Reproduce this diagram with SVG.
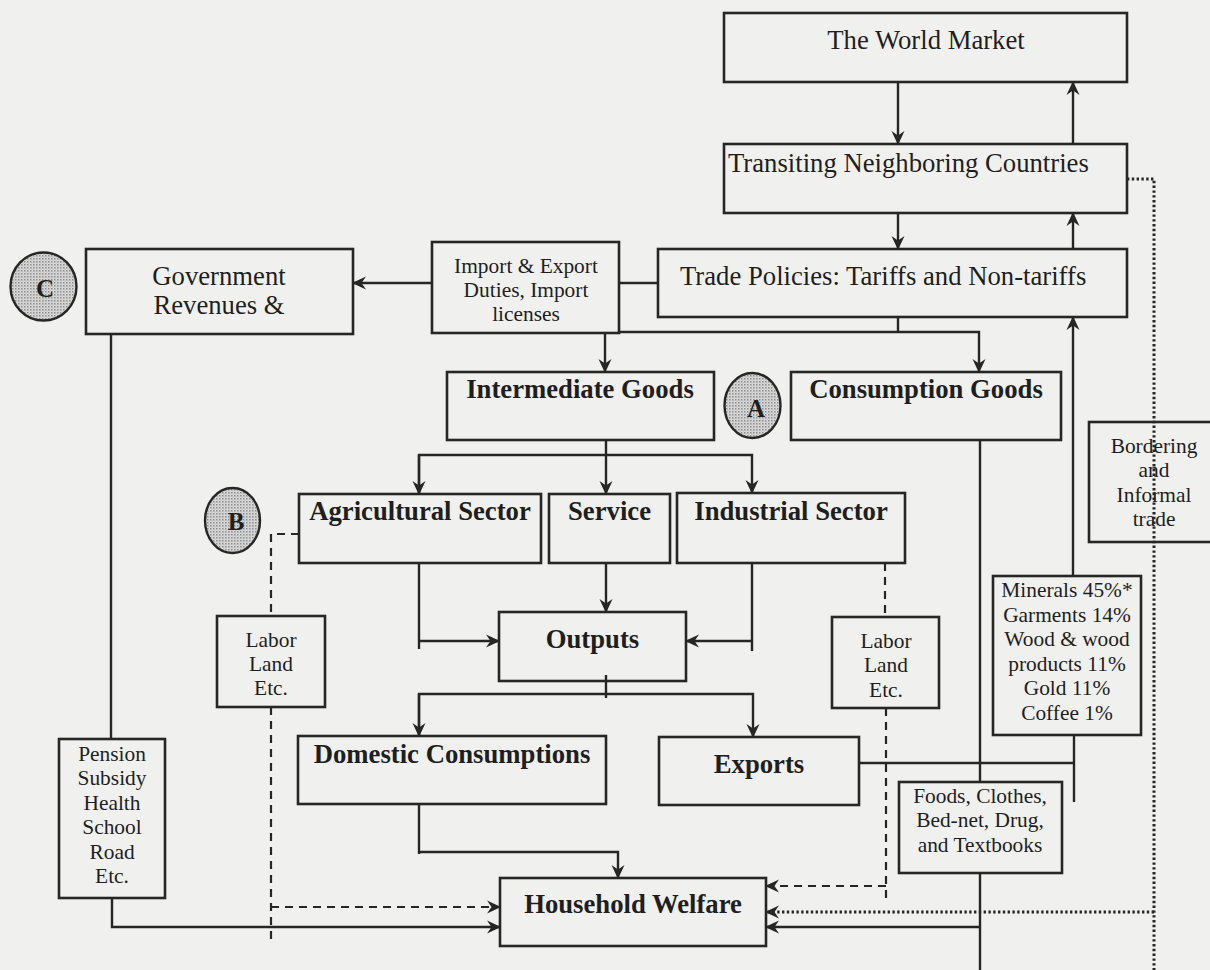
<svg xmlns="http://www.w3.org/2000/svg" width="1210" height="970" viewBox="0 0 1210 970">
<defs>
<style>
.box{fill:none;stroke:#262626;stroke-width:2.6}
.ln{fill:none;stroke:#262626;stroke-width:2.4}
.da{fill:none;stroke:#262626;stroke-width:2.2;stroke-dasharray:8 6}
.do{fill:none;stroke:#262626;stroke-width:3;stroke-dasharray:2.4 2.4}
.t{font-family:"Liberation Serif","Times New Roman",serif;fill:#1e1e1e;text-anchor:middle}
.big{font-size:26.7px}
.bold{font-size:26.7px;font-weight:bold}
.sm{font-size:21.4px}
.circ{fill:url(#stip);stroke:#262626;stroke-width:2.4}
.let{font-size:25px;font-weight:bold}
</style>
<pattern id="stip" width="3" height="3" patternUnits="userSpaceOnUse">
<rect width="3" height="3" fill="#dcdcdc"/>
<rect x="0" y="0" width="1.5" height="1.5" fill="#8a8a8a"/>
<rect x="1.5" y="1.5" width="1" height="1" fill="#a8a8a8"/>
</pattern>
<marker id="ah" viewBox="0 0 14 14" refX="13" refY="7" markerWidth="14" markerHeight="14" markerUnits="userSpaceOnUse" orient="auto">
<path d="M0,0.5 L14,7 L0,13.5 L4.5,7 z" fill="#262626"/>
</marker>
</defs>
<rect x="0" y="0" width="1210" height="970" fill="#f0f0ee"/>

<g id="world-market">
<rect class="box" x="724" y="13" width="403" height="69"/>
<text class="t big" x="926" y="49">The World Market</text>
</g>
<g id="transiting">
<rect class="box" x="724" y="144" width="403" height="69"/>
<text class="t big" x="728" y="172" style="text-anchor:start">Transiting Neighboring Countries</text>
</g>
<g id="trade-policies">
<rect class="box" x="658" y="249" width="469" height="68"/>
<text class="t big" x="680" y="285" style="text-anchor:start">Trade Policies: Tariffs and Non-tariffs</text>
</g>
<g id="duties">
<rect class="box" x="432" y="242" width="187" height="91"/>
<text class="t sm" x="526" y="273">Import &amp; Export</text>
<text class="t sm" x="526" y="297">Duties, Import</text>
<text class="t sm" x="526" y="321">licenses</text>
</g>
<g id="government">
<rect class="box" x="86" y="249" width="267" height="85"/>
<text class="t big" x="219" y="285">Government</text>
<text class="t big" x="219" y="314">Revenues &amp;</text>
</g>
<g id="circle-c">
<ellipse class="circ" cx="43.5" cy="286.5" rx="33" ry="34"/>
<text class="t let" x="45" y="297">C</text>
</g>
<g id="intermediate">
<rect class="box" x="447" y="372" width="267" height="68"/>
<text class="t bold" x="580" y="398">Intermediate Goods</text>
</g>
<g id="circle-a">
<ellipse class="circ" cx="752.5" cy="405.5" rx="28" ry="32.5"/>
<text class="t let" x="756" y="417">A</text>
</g>
<g id="consumption">
<rect class="box" x="791" y="372" width="270" height="68"/>
<text class="t bold" x="926" y="398">Consumption Goods</text>
</g>
<g id="bordering">
<rect class="box" x="1089" y="422" width="130" height="120"/>
<text class="t sm" x="1154" y="453">Bordering</text>
<text class="t sm" x="1154" y="477">and</text>
<text class="t sm" x="1154" y="502">Informal</text>
<text class="t sm" x="1154" y="526">trade</text>
</g>
<g id="circle-b">
<ellipse class="circ" cx="232.5" cy="520.5" rx="27.5" ry="32.5"/>
<text class="t let" x="236" y="530">B</text>
</g>
<g id="agricultural">
<rect class="box" x="299" y="494" width="242" height="69"/>
<text class="t bold" x="420" y="520">Agricultural Sector</text>
</g>
<g id="service">
<rect class="box" x="549" y="494" width="121" height="69"/>
<text class="t bold" x="609.5" y="520">Service</text>
</g>
<g id="industrial">
<rect class="box" x="677" y="493" width="228" height="70"/>
<text class="t bold" x="791" y="520">Industrial Sector</text>
</g>
<g id="minerals">
<rect class="box" x="993" y="576" width="148" height="159"/>
<text class="t sm" x="1067" y="597">Minerals 45%*</text>
<text class="t sm" x="1067" y="622">Garments 14%</text>
<text class="t sm" x="1067" y="646">Wood &amp; wood</text>
<text class="t sm" x="1067" y="671">products 11%</text>
<text class="t sm" x="1067" y="695">Gold 11%</text>
<text class="t sm" x="1067" y="720">Coffee 1%</text>
</g>
<g id="labor-left">
<rect class="box" x="217" y="616" width="108" height="91"/>
<text class="t sm" x="271" y="647">Labor</text>
<text class="t sm" x="271" y="671">Land</text>
<text class="t sm" x="271" y="695">Etc.</text>
</g>
<g id="outputs">
<rect class="box" x="499" y="612" width="187" height="69"/>
<text class="t bold" x="592.5" y="648">Outputs</text>
</g>
<g id="labor-right">
<rect class="box" x="832" y="617" width="107" height="91"/>
<text class="t sm" x="886" y="648">Labor</text>
<text class="t sm" x="886" y="672">Land</text>
<text class="t sm" x="886" y="697">Etc.</text>
</g>
<g id="domestic">
<rect class="box" x="298" y="736" width="308" height="68"/>
<text class="t bold" x="452" y="763">Domestic Consumptions</text>
</g>
<g id="exports">
<rect class="box" x="659" y="737" width="200" height="68"/>
<text class="t bold" x="759" y="773">Exports</text>
</g>
<g id="pension">
<rect class="box" x="59" y="739" width="106" height="159"/>
<text class="t sm" x="112" y="761">Pension</text>
<text class="t sm" x="112" y="785">Subsidy</text>
<text class="t sm" x="112" y="810">Health</text>
<text class="t sm" x="112" y="834">School</text>
<text class="t sm" x="112" y="859">Road</text>
<text class="t sm" x="112" y="883">Etc.</text>
</g>
<g id="foods">
<rect class="box" x="899" y="782" width="163" height="91"/>
<text class="t sm" x="980" y="803">Foods, Clothes,</text>
<text class="t sm" x="980" y="827">Bed-net, Drug,</text>
<text class="t sm" x="980" y="852">and Textbooks</text>
</g>
<g id="household">
<rect class="box" x="500" y="878" width="266" height="68"/>
<text class="t bold" x="633" y="913">Household Welfare</text>
</g>

<g id="connectors">
<path class="ln" d="M898,82 V144" marker-end="url(#ah)"/>
<path class="ln" d="M1073,144 V82" marker-end="url(#ah)"/>
<path class="ln" d="M898,213 V249" marker-end="url(#ah)"/>
<path class="ln" d="M1073,249 V213" marker-end="url(#ah)"/>
<path class="ln" d="M658,283 H619"/>
<path class="ln" d="M432,283 H353" marker-end="url(#ah)"/>
<path class="ln" d="M605,333 V372" marker-end="url(#ah)"/>
<path class="ln" d="M898,317 V332"/>
<path class="ln" d="M619,332 H979 V372" marker-end="url(#ah)"/>
<path class="ln" d="M606,440 V494" marker-end="url(#ah)"/>
<path class="ln" d="M419,494 V455 H752 V493" marker-end="url(#ah)"/>
<path class="ln" d="M419,455 V494" marker-end="url(#ah)"/>
<path class="ln" d="M419,563 V649"/>
<path class="ln" d="M419,641 H499" marker-end="url(#ah)"/>
<path class="ln" d="M606,563 V612" marker-end="url(#ah)"/>
<path class="ln" d="M752,563 V651"/>
<path class="ln" d="M752,641 H686" marker-end="url(#ah)"/>
<path class="ln" d="M606,675 V698"/>
<path class="ln" d="M419,736 V694 H753 V737" marker-end="url(#ah)"/>
<path class="ln" d="M419,694 V736" marker-end="url(#ah)"/>
<path class="ln" d="M419,804 V854"/>
<path class="ln" d="M419,852 H618 V878" marker-end="url(#ah)"/>
<path class="ln" d="M859,763 H1074"/>
<path class="ln" d="M1074,735 V802"/>
<path class="ln" d="M1073,576 V317" marker-end="url(#ah)"/>
<path class="ln" d="M980,440 V782"/>
<path class="ln" d="M980,873 V970"/>
<path class="ln" d="M980,927 H766" marker-end="url(#ah)"/>
<path class="ln" d="M111,334 V739"/>
<path class="ln" d="M112,898 V927 H500" marker-end="url(#ah)"/>
<path class="da" d="M299,534 H271 V616"/>
<path class="da" d="M271,707 V943"/>
<path class="da" d="M271,907 H500" marker-end="url(#ah)"/>
<path class="da" d="M885,563 V617"/>
<path class="da" d="M886,708 V902"/>
<path class="da" d="M886,886 H766" marker-end="url(#ah)"/>
<path class="do" d="M1127,179 H1154 V970"/>
<path class="do" d="M1154,912 H766" marker-end="url(#ah)"/>
</g>
</svg>
